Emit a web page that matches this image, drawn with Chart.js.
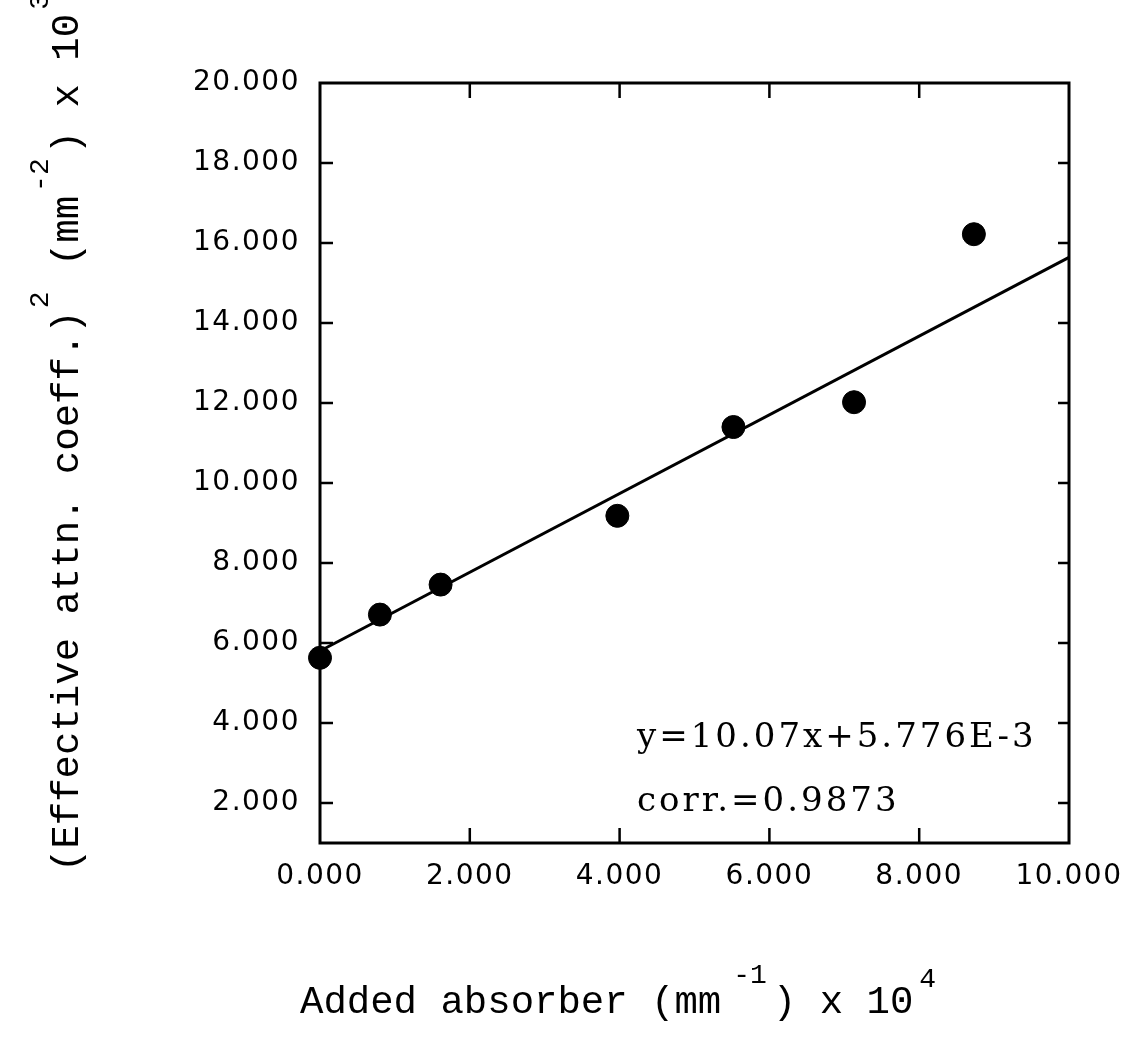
<!DOCTYPE html>
<html>
<head>
<meta charset="utf-8">
<script src="https://cdn.jsdelivr.net/npm/chart.js@4/dist/chart.umd.min.js"></script>
<style>
  html, body { margin: 0; padding: 0; background: #fff; }
</style>
</head>
<body>
<canvas id="myChart" width="1130" height="1042"></canvas>
<script>
// data (x in mm^-1 x 10^4, y in mm^-2 x 10^3)
var absorber = [0.0, 0.80, 1.61, 3.97, 5.52, 7.13, 8.73];
var attnSq = [5.63, 6.71, 7.46, 9.18, 11.40, 12.02, 16.22];
var fitX = [0, 10];
var fitY = [5.80, 15.64];
var xTicks = [0, 2, 4, 6, 8, 10];
var yTicks = [2, 4, 6, 8, 10, 12, 14, 16, 18, 20];
var eqText = "y=10.07x+5.776E-3";
var corrText = "corr.=0.9873";

var points = absorber.map(function (x, i) { return { x: x, y: attnSq[i] }; });
var fitLine = fitX.map(function (x, i) { return { x: x, y: fitY[i] }; });

// draws a string made of normal and superscript parts along the baseline
function drawParts(ctx, parts, x0, y0) {
  var x = x0;
  parts.forEach(function (p) {
    ctx.font = p.sup ? "28px 'Liberation Mono'" : "39px 'Liberation Mono'";
    x += p.gap || 0;
    ctx.fillText(p.t, x, y0 - (p.sup ? p.rise : 0));
    x += ctx.measureText(p.t).width;
  });
}

var framePlugin = {
  id: "frame",
  beforeDraw: function (chart) {
    // wider spacing for the tick numbers, like the original
    chart.ctx.letterSpacing = "1.5px";
  },
  afterDraw: function (chart) {
    var ctx = chart.ctx;
    var a = chart.chartArea;
    var xs = chart.scales.x;
    var ys = chart.scales.y;
    ctx.letterSpacing = "0px";
    ctx.save();
    ctx.strokeStyle = "#000";
    ctx.lineWidth = 3;
    ctx.strokeRect(a.left, a.top, a.right - a.left, a.bottom - a.top);

    // inward ticks
    ctx.beginPath();
    xTicks.forEach(function (v) {
      if (v === xs.min || v === xs.max) return;
      var px = xs.getPixelForValue(v);
      ctx.moveTo(px, a.bottom); ctx.lineTo(px, a.bottom - 15);
      ctx.moveTo(px, a.top); ctx.lineTo(px, a.top + 15);
    });
    yTicks.forEach(function (v) {
      if (v === ys.max) return;
      var py = ys.getPixelForValue(v);
      ctx.moveTo(a.left, py); ctx.lineTo(a.left + 13, py);
      ctx.moveTo(a.right, py); ctx.lineTo(a.right - 11, py);
    });
    ctx.lineWidth = 2.5;
    ctx.stroke();

    // regression text
    ctx.fillStyle = "#000";
    ctx.textAlign = "left";
    ctx.textBaseline = "alphabetic";
    ctx.font = "34px 'DejaVu Serif'";
    ctx.letterSpacing = "3px";
    ctx.fillText(eqText, a.left + 317, 747);
    ctx.fillText(corrText, a.left + 317, 811);
    ctx.letterSpacing = "0px";

    // x axis title
    drawParts(ctx, [
      { t: "Added absorber (mm" },
      { t: "-1", sup: true, rise: 30, gap: 12 },
      { t: ") x 10", gap: 6 },
      { t: "4", sup: true, rise: 26, gap: 6 }
    ], 300, 1013);

    // y axis title, rotated
    ctx.translate(78, 872);
    ctx.rotate(-Math.PI / 2);
    drawParts(ctx, [
      { t: "(Effective attn. coeff.)" },
      { t: "2", sup: true, rise: 30, gap: 2 },
      { t: " (mm", gap: 2 },
      { t: "-2", sup: true, rise: 30, gap: 4 },
      { t: ") x 10", gap: 4 },
      { t: "3", sup: true, rise: 30, gap: 4 }
    ], 0, 0);
    ctx.restore();
  }
};

var ctx = document.getElementById("myChart").getContext("2d");
var chart = new Chart(ctx, {
  type: "scatter",
  data: {
    datasets: [
      {
        label: "fit",
        data: fitLine,
        showLine: true,
        borderColor: "#000",
        borderWidth: 3,
        pointRadius: 0,
        fill: false
      },
      {
        label: "measured",
        data: points,
        backgroundColor: "#000",
        borderColor: "#000",
        pointRadius: 11.5,
        pointHoverRadius: 11.5
      }
    ]
  },
  options: {
    responsive: false,
    animation: false,
    clip: false,
    layout: { padding: { top: 83, right: 61, left: 0, bottom: 0 } },
    plugins: {
      legend: { display: false },
      tooltip: { enabled: false }
    },
    scales: {
      x: {
        type: "linear",
        min: 0,
        max: 10,
        grid: { display: false, drawTicks: false },
        border: { display: false },
        afterBuildTicks: function (axis) {
          axis.ticks = xTicks.map(function (v) { return { value: v }; });
        },
        afterFit: function (axis) {
          axis.height = 199;
          axis.paddingLeft = 0;
          axis.paddingRight = 0;
        },
        ticks: {
          padding: 17,
          color: "#000",
          font: { family: "DejaVu Sans", size: 28 },
          maxRotation: 0,
          callback: function (v) { return Number(v).toFixed(3); }
        }
      },
      y: {
        type: "linear",
        min: 1,
        max: 20,
        grid: { display: false, drawTicks: false },
        border: { display: false },
        afterBuildTicks: function (axis) {
          axis.ticks = yTicks.map(function (v) { return { value: v }; });
        },
        afterFit: function (axis) {
          axis.width = 320;
          axis.paddingTop = 0;
          axis.paddingBottom = 0;
        },
        ticks: {
          padding: 20,
          color: "#000",
          font: { family: "DejaVu Sans", size: 28 },
          callback: function (v) { return Number(v).toFixed(3); }
        }
      }
    }
  },
  plugins: [framePlugin]
});
</script>
</body>
</html>
